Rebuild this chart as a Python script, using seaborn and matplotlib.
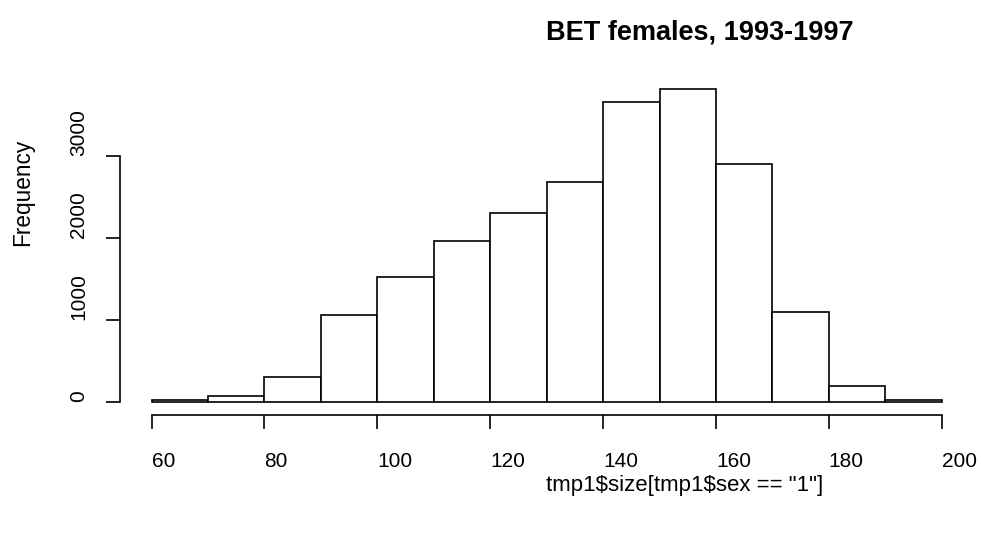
import numpy as np
import matplotlib
matplotlib.use("Agg")
import matplotlib.pyplot as plt
import seaborn as sns

# Size classes (bin edges) and number of females per class
bin_edges = [60, 70, 80, 90, 100, 110, 120, 130, 140, 150, 160, 170, 180, 190, 200]
counts = [20, 70, 310, 1060, 1520, 1960, 2310, 2690, 3660, 3820, 2910, 1100, 200, 20]
x_ticks = [60, 80, 100, 120, 140, 160, 180, 200]
y_ticks = [0, 1000, 2000, 3000]

title = "BET females, 1993-1997"
x_label = 'tmp1$size[tmp1$sex == "1"]'
y_label = "Frequency"

sns.set_style("white")
plt.rcParams["font.family"] = ["Liberation Sans", "DejaVu Sans"]

W, H = 981, 537
fig = plt.figure(figsize=(W / 100, H / 100), dpi=100)
ax = fig.add_axes([120 / W, (H - 414.5) / H, (973.3 - 120) / W, (414.5 - 76.5) / H])

centers = [(a + b) / 2 for a, b in zip(bin_edges[:-1], bin_edges[1:])]
sns.histplot(x=centers, weights=counts, bins=bin_edges, color="white",
             edgecolor="black", linewidth=1.2, alpha=1, ax=ax)

xr = bin_edges[-1] - bin_edges[0]
ax.set_xlim(bin_edges[0] - 0.04 * xr, bin_edges[-1] + 0.04 * xr)
ymax = max(counts)
ax.set_ylim(-0.04 * ymax, 1.04 * ymax)

for side in ("top", "right"):
    ax.spines[side].set_visible(False)
ax.spines["left"].set_bounds(y_ticks[0], y_ticks[-1])
ax.spines["bottom"].set_bounds(x_ticks[0], x_ticks[-1])
for side in ("left", "bottom"):
    ax.spines[side].set_linewidth(1.2)
    ax.spines[side].set_color("black")

ax.set_xticks(x_ticks)
ax.set_yticks(y_ticks)
ax.set_xticklabels([str(v) for v in x_ticks], ha="left")
ax.set_yticklabels([str(v) for v in y_ticks], rotation=90, ha="right", va="bottom")
ax.tick_params(axis="both", which="major", bottom=True, left=True, direction="out",
               length=10, width=1.2, color="black", labelsize=15, labelcolor="black")
ax.tick_params(axis="x", pad=17)
ax.tick_params(axis="y", pad=13)
ax.set_xlabel("")
ax.set_ylabel("")

fig.text(546.5 / W, 1 - 33 / H, title, ha="left", va="center",
         fontsize=19.5, fontweight="bold", color="black")
fig.text(546.5 / W, 1 - 485 / H, x_label, ha="left", va="center",
         fontsize=16, color="black", parse_math=False)
fig.text(23 / W, 1 - 245.5 / H, y_label, rotation=90, ha="center", va="bottom",
         fontsize=16.3, color="black")

fig.savefig("out.png", dpi=100, facecolor="white")
